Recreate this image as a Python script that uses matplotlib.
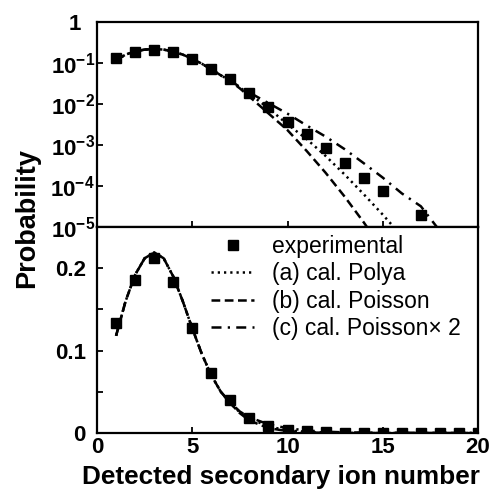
import numpy as np
import matplotlib
matplotlib.use("Agg")
import matplotlib.pyplot as plt
import matplotlib.transforms as mtransforms

plt.rcParams['font.family'] = ['Liberation Sans', 'DejaVu Sans']
plt.rcParams['mathtext.fontset'] = 'custom'
plt.rcParams['mathtext.rm'] = 'Liberation Sans:bold'
plt.rcParams['mathtext.bf'] = 'Liberation Sans:bold'

TICK_SIZE = 16
LABEL_SIZE = 18.8
LEGEND_SIZE = 16.5

# experimental distribution
n_exp = [1, 2, 3, 4, 5, 6, 7, 8, 9, 10, 11, 12, 13, 14, 15, 16, 17, 18, 19, 20]
p_exp = [0.134, 0.186, 0.212, 0.183, 0.128, 0.073, 0.040, 0.0186, 0.0085, 0.0036,
         0.0019, 8.5e-4, 3.6e-4, 1.6e-4, 7.6e-5, 0, 2.0e-5, 0, 0, 0]

# calculated curves
n_cal = [1, 1.5, 2, 2.5, 3, 3.5, 4, 4.5, 5, 5.5, 6, 6.5, 7, 7.5, 8,
         9, 10, 11, 12, 13, 14, 15, 16, 17, 18, 19, 20]
p_polya = [0.118, 0.160, 0.192, 0.212, 0.219, 0.212, 0.190, 0.160, 0.127, 0.096,
           0.070, 0.050, 0.036, 0.025, 0.0178,
           0.0079, 0.0032, 1.4e-3, 5.4e-4, 1.9e-4, 6.3e-5, 2.0e-5, 6e-6, 1.7e-6,
           5e-7, 1e-7, 3e-8]
p_poisson = [0.118, 0.160, 0.192, 0.212, 0.219, 0.212, 0.190, 0.160, 0.127, 0.096,
             0.070, 0.050, 0.036, 0.024, 0.0151,
             0.0059, 0.0023, 7.2e-4, 2.1e-4, 5.5e-5, 1.3e-5, 2.8e-6, 5e-7, 1e-7,
             2e-8, 4e-9, 1e-9]
p_poisson2 = [0.118, 0.160, 0.192, 0.212, 0.219, 0.212, 0.190, 0.160, 0.127, 0.096,
              0.070, 0.050, 0.037, 0.026, 0.019,
              0.0105, 0.0058, 3.0e-3, 1.6e-3, 7.9e-4, 3.6e-4, 1.6e-4, 6.6e-5, 3.2e-5,
              8e-6, 2e-6, 5e-7]

LW = 1.8
STYLES = [
    ("(a) cal. Polya", p_polya, (0, (0.9, 1.6))),
    ("(b) cal. Poisson", p_poisson, (0, (3.5, 1.8))),
    ("(c) cal. Poisson\u00d7 2", p_poisson2, (0, (4, 2.5, 0.9, 2.5))),
]


def style_ax(ax, ypad):
    ax.tick_params(direction='in', length=4, width=1.3, labelsize=TICK_SIZE)
    ax.tick_params(axis='y', pad=ypad)
    ax.tick_params(axis='x', pad=3)
    for s in ax.spines.values():
        s.set_linewidth(1.6)
    for lab in ax.get_xticklabels() + ax.get_yticklabels():
        lab.set_fontweight('bold')


fig = plt.figure(figsize=(4.91, 4.93), dpi=100)
ax1 = fig.add_axes([0.1976, 0.5396, 0.7759, 0.4158])
ax2 = fig.add_axes([0.1976, 0.1217, 0.7759, 0.4179])

# top: log scale
for label, vals, ls in STYLES:
    ax1.plot(n_cal, vals, color='black', lw=LW, ls=ls)
ax1.plot(n_exp, p_exp, 's', color='black', ms=7.5, ls='none')
ax1.set_yscale('log', nonpositive='mask')
ax1.set_ylim(1e-5, 1)
ax1.set_xlim(0, 20)
ax1.set_yticks([1, 1e-1, 1e-2, 1e-3, 1e-4, 1e-5])
ax1.set_yticklabels(['1', r'$10^{-1}$', r'$10^{-2}$',
                     r'$10^{-3}$', r'$10^{-4}$', r'$10^{-5}$'])
ax1.minorticks_off()
ax1.set_xticks([5, 10, 15])
ax1.set_xticklabels([])
style_ax(ax1, 1.5)
# the plain "1" sits aligned with the "10" part of the other labels
one = ax1.get_yticklabels()[0]
one.set_transform(one.get_transform() +
                  mtransforms.ScaledTranslation(-14 / 100, 0, fig.dpi_scale_trans))

# bottom: linear scale
ax2.plot(n_exp, p_exp, 's', color='black', ms=7.5, ls='none', label='experimental')
for label, vals, ls in STYLES:
    ax2.plot(n_cal, vals, color='black', lw=LW, ls=ls, label=label)
ax2.set_xlim(0, 20)
ax2.set_ylim(0, 0.25)
ax2.set_xticks([0, 5, 10, 15, 20])
ax2.set_yticks([0, 0.05, 0.1, 0.15, 0.2])
ax2.set_yticklabels(['0', '', '0.1', '', '0.2'])
style_ax(ax2, 8)
ax2.legend(loc='upper right', bbox_to_anchor=(0.99, 1.03), frameon=False,
           prop=dict(size=LEGEND_SIZE), handlelength=1.9, handletextpad=0.75,
           labelspacing=0.2, borderaxespad=0.2)

fig.text(0.1976 + 0.7759 * 0.483, 0.008, "Detected secondary ion number",
         fontsize=LABEL_SIZE, fontweight='bold', ha='center', va='bottom')
fig.text(0.055, 0.558, "Probability", rotation=90, fontsize=19.5,
         fontweight='bold', ha='center', va='center')

fig.savefig("out.png", dpi=100)
